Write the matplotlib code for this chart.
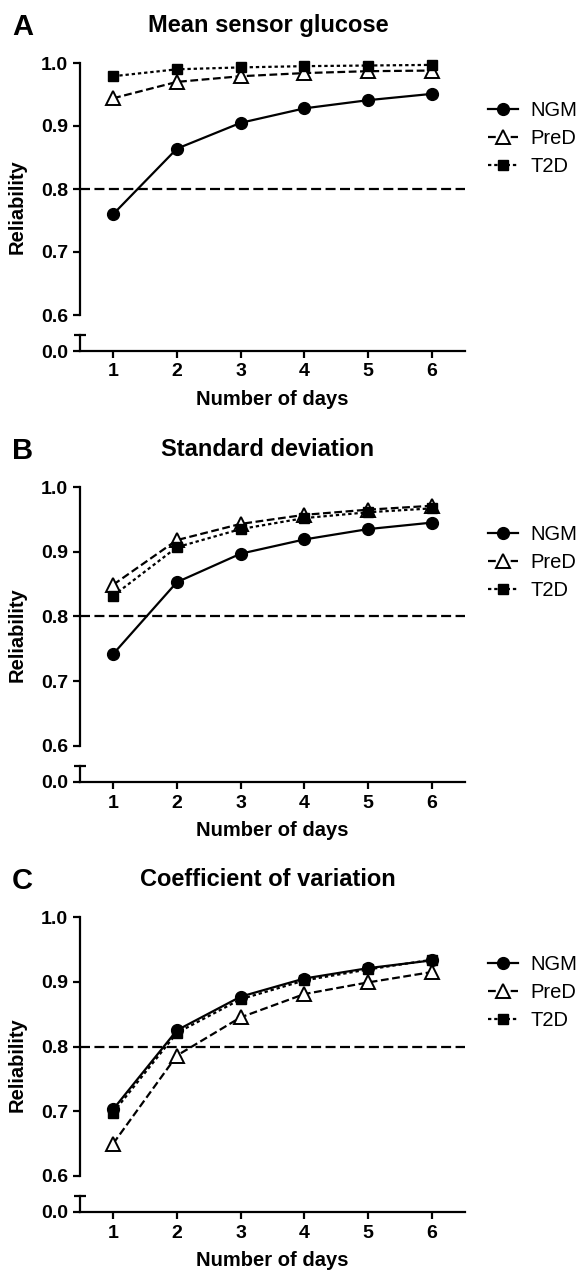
import numpy as np
import matplotlib
matplotlib.use("Agg")
import matplotlib.pyplot as plt

plt.rcParams['font.family'] = ['Liberation Sans', 'DejaVu Sans']

# data
days = [1, 2, 3, 4, 5, 6]
groups = ["NGM", "PreD", "T2D"]

mean_ngm = [0.760, 0.864, 0.905, 0.928, 0.941, 0.951]
mean_pred = [0.944, 0.970, 0.979, 0.984, 0.987, 0.988]
mean_t2d = [0.979, 0.990, 0.993, 0.995, 0.996, 0.997]

sd_ngm = [0.742, 0.853, 0.897, 0.919, 0.935, 0.945]
sd_pred = [0.849, 0.918, 0.943, 0.957, 0.965, 0.971]
sd_t2d = [0.832, 0.907, 0.935, 0.952, 0.961, 0.967]

cv_ngm = [0.703, 0.825, 0.877, 0.905, 0.921, 0.933]
cv_pred = [0.650, 0.786, 0.845, 0.881, 0.899, 0.915]
cv_t2d = [0.698, 0.821, 0.873, 0.902, 0.919, 0.934]

yticks_top = [0.6, 0.7, 0.8, 0.9, 1.0]
threshold = 0.8

W, H = 585, 1273
LEFT, RIGHT = 80, 465

styles = {
    "NGM": dict(ls='-', marker='o', ms=8.5, mfc='black', mec='black'),
    "PreD": dict(ls=(0, (3.5, 1.6)), marker='^', ms=10.5, mfc='white', mec='black', mew=1.4),
    "T2D": dict(ls=(0, (1.5, 1.3)), marker='s', ms=7.5, mfc='black', mec='black'),
}


def draw_panel(fig, y1, y6, yc, y0, letter, title, series):
    # top part of broken axis (0.6 - 1.0)
    ax = fig.add_axes([LEFT / W, 1 - y6 / H, (RIGHT - LEFT) / W, (y6 - y1) / H])
    # bottom stub (0.0)
    axb = fig.add_axes([LEFT / W, 1 - y0 / H, (RIGHT - LEFT) / W, (y0 - yc) / H])

    handles = []
    for name, vals in zip(groups, series):
        h, = ax.plot(days, vals, color='black', lw=1.6, label=name,
                     clip_on=False, zorder=3, **styles[name])
        handles.append(h)
    ax.axhline(threshold, color='black', lw=1.6, ls=(0, (4.5, 2)), zorder=2)

    for a in (ax, axb):
        a.set_xlim(0.48, 6.52)
        for s in a.spines.values():
            s.set_linewidth(1.6)
        a.spines['right'].set_visible(False)
        a.spines['top'].set_visible(False)
        a.tick_params(width=1.6, length=5, labelsize=14)

    ax.set_ylim(0.6, 1.0)
    ax.set_yticks(yticks_top)
    ax.set_yticklabels([f"{v:.1f}" for v in yticks_top], fontweight='bold')
    ax.spines['bottom'].set_visible(False)
    ax.set_xticks([])

    axb.set_ylim(0, 1)
    axb.set_yticks([0])
    axb.set_yticklabels(["0.0"], fontweight='bold')
    axb.set_xticks(days)
    axb.set_xticklabels([str(d) for d in days], fontweight='bold')
    axb.tick_params(axis='x', pad=4)
    axb.plot([0], [1], transform=axb.transAxes, marker='_', ms=9, mew=1.6,
             color='black', clip_on=False)
    axb.set_xlabel("Number of days", fontsize=14.5, fontweight='bold', labelpad=7)

    ax.set_ylabel("Reliability", fontsize=14.5, fontweight='bold')
    ax.yaxis.set_label_coords((27 - LEFT) / (RIGHT - LEFT),
                              (y6 - (y1 + y0) / 2) / (y6 - y1))

    fig.text(268 / W, 1 - (y1 - 31) / H, title, ha='center', va='baseline',
             fontsize=17, fontweight='bold')
    fig.text(12 / W, 1 - (y1 - 28) / H, letter, ha='left', va='baseline',
             fontsize=21, fontweight='bold')

    fig.legend(handles=handles, loc='upper left',
               bbox_to_anchor=(488 / W, 1 - (y1 + 38) / H),
               frameon=False, fontsize=14.5, handlelength=1.5,
               handletextpad=0.6, labelspacing=0.45, borderpad=0,
               borderaxespad=0)


fig = plt.figure(figsize=(W / 100, H / 100), dpi=100)

draw_panel(fig, 63, 315, 335, 351, "A", "Mean sensor glucose",
           [mean_ngm, mean_pred, mean_t2d])
draw_panel(fig, 487, 746, 766, 782, "B", "Standard deviation",
           [sd_ngm, sd_pred, sd_t2d])
draw_panel(fig, 917, 1176, 1196, 1212, "C", "Coefficient of variation",
           [cv_ngm, cv_pred, cv_t2d])

fig.savefig("out.png", dpi=100)
